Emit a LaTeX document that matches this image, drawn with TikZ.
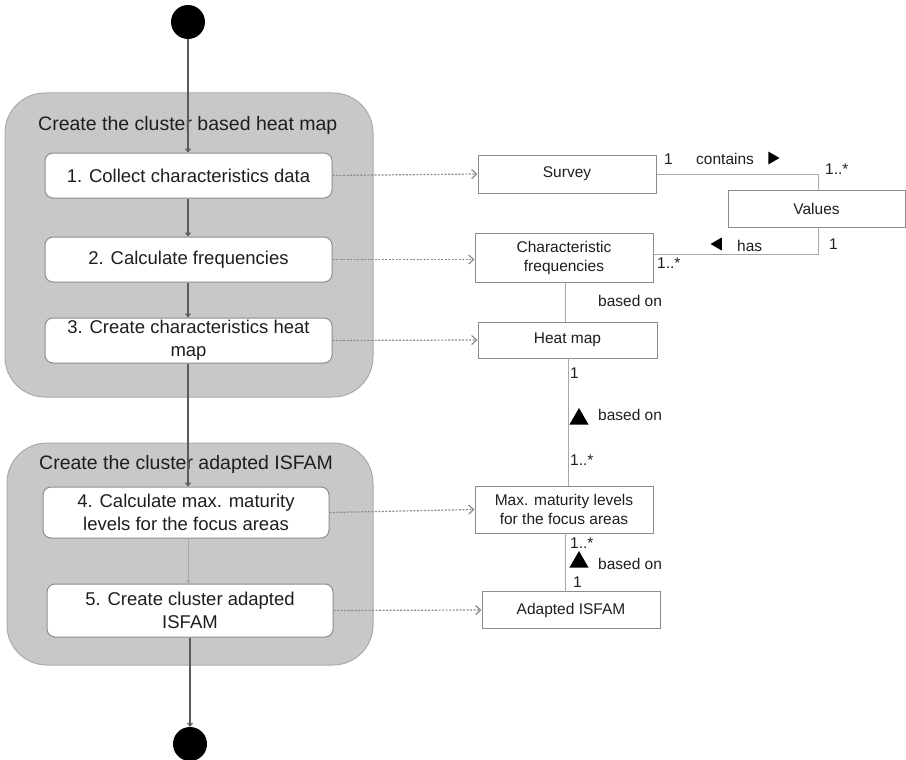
\documentclass[tikz,border=0pt]{standalone}
\usepackage{fontspec}
\setmainfont{Liberation Sans}
\usetikzlibrary{arrows.meta, positioning, calc, shapes.geometric, backgrounds}
\definecolor{gink}{HTML}{1E1E1E}
\definecolor{gflow}{HTML}{5A5A5A}
\definecolor{gedge}{HTML}{8C8C8C}
\definecolor{gline}{HTML}{A8A8A8}
\definecolor{gpanel}{HTML}{C8C8C8}
\definecolor{gpanelrule}{HTML}{AAAAAA}

\begin{document}
\begin{tikzpicture}[
  x=1pt, y=-1pt,
  text=gink,
  % activity side (left) is set larger than the class side (right)
  panel/.style   = {draw=gpanelrule, line width=1pt, fill=gpanel,
                    rounded corners=40pt, inner sep=0pt},
  ptitle/.style  = {font=\fontsize{19.5}{23}\selectfont, anchor=base west,
                    inner sep=0pt},
  action/.style  = {draw=gedge, line width=1pt, fill=white, rounded corners=8pt,
                    align=center, inner sep=2pt,
                    font=\fontsize{18.5}{23}\selectfont},
  entity/.style  = {draw=gedge, line width=1pt, fill=white, align=center,
                    inner sep=2pt, font=\fontsize{15.5}{19}\selectfont},
  dot/.style     = {circle, fill=black, minimum size=34pt, inner sep=0pt},
  flow/.style    = {-{Straight Barb[length=3pt, width=5pt]}, draw=gflow,
                    line width=1.1pt},
  thinflow/.style= {-{Straight Barb[length=2.5pt, width=4pt]}, draw=gline,
                    line width=0.8pt},
  trace/.style   = {-{Straight Barb[length=5pt, width=9pt]}, draw=gedge,
                    line width=1.2pt, dash pattern=on 2pt off 1.5pt},
  assoc/.style   = {draw=gline, line width=1pt},
  lbl/.style     = {font=\fontsize{15.5}{18}\selectfont, anchor=west,
                    inner sep=0pt},
  dir/.style     = {regular polygon, regular polygon sides=3, fill=black,
                    inner sep=0pt},
]
\useasboundingbox (0,0) rectangle (906,760);

% ============================ activity side ================================
\node[panel, minimum width=368pt, minimum height=304pt] (heatgrp) at (189,245) {};
\node[panel, minimum width=366pt, minimum height=222pt] (isfamgrp) at (190,554) {};
\node[ptitle] (heattitle) at (38,131) {Create the cluster based heat map};
\node[ptitle] (isfamtitle) at (39,469) {Create the cluster adapted ISFAM};

\node[dot] (start) at (188,22) {};
\node[action, minimum width=287pt, minimum height=45pt] (collect) at (188.5,175.5)
     {1. Collect characteristics data};
\node[action, minimum width=287pt, minimum height=45pt] (calc) at (188.5,259.5)
     {2. Calculate frequencies};
\node[action, minimum width=287pt, minimum height=45pt] (mkheat) at (188.5,340.5)
     {3. Create characteristics heat\\map};
\node[action, minimum width=286pt, minimum height=51pt] (maxcalc) at (186,512.5)
     {4. Calculate max. maturity\\levels for the focus areas};
\node[action, minimum width=286pt, minimum height=53pt] (mkisfam) at (190,610.5)
     {5. Create cluster adapted\\ISFAM};
\node[dot] (stop) at (190,744) {};

\draw[flow] (start) -- (start |- collect.north);
\draw[flow] (collect.south -| start) -- (start |- calc.north);
\draw[flow] (calc.south -| start) -- (start |- mkheat.north);
\draw[flow] (mkheat.south -| start) -- (start |- maxcalc.north);
\draw[thinflow] (maxcalc.south -| start) -- (start |- mkisfam.north);
\draw[flow] (mkisfam.south) -- (stop);

% ============================== class side =================================
\node[entity, minimum width=178pt, minimum height=38pt] (survey) at (567,174) {Survey};
\node[entity, minimum width=177pt, minimum height=37pt] (values) at (816.5,208.5) {Values};
\node[entity, minimum width=178pt, minimum height=49pt] (charfreq) at (564,257.5)
     {Characteristic\\frequencies};
\node[entity, minimum width=179pt, minimum height=36pt] (heatmap) at (567.5,340) {Heat map};
\node[entity, minimum width=178pt, minimum height=47pt] (maxlevels) at (564,509.5)
     {Max. maturity levels\\for the focus areas};
\node[entity, minimum width=178pt, minimum height=37pt] (adapted) at (571,610)
     {Adapted ISFAM};

% which artefact each step produces
\draw[trace] (collect.east) -- (survey.west);
\draw[trace] (calc.east) -- (calc.east -| charfreq.west);
\draw[trace] (mkheat.east) -- (heatmap.west);
\draw[trace] (maxcalc.east) -- (maxlevels.west);
\draw[trace] (mkisfam.east) -- (adapted.west);

% associations
\coordinate (vtop) at (818,190);
\coordinate (vbot) at (818,227);
\draw[assoc] (survey.east) -| (vtop);
\draw[assoc] (vbot) |- (charfreq.east |- 0,254);
\draw[assoc] (565,282) -- (565,322);
\draw[assoc] (568,358) -- (568,486);
\draw[assoc] (565,533) -- (565,592);

\node[lbl] (m1) at (664,159) {1};
\node[lbl] (contains) at (696,159) {contains};
\node[dir, minimum size=15pt, shape border rotate=-90] (tricon) at (772,158) {};
\node[lbl] (m2) at (825,169) {1..*};
\node[dir, minimum size=15pt, shape border rotate=90] (trihas) at (718,244) {};
\node[lbl] (has) at (737,246) {has};
\node[lbl] (m3) at (829,244) {1};
\node[lbl] (m4) at (657,263) {1..*};
\node[lbl] (based1) at (598,301) {based on};
\node[lbl] (m5) at (570,373) {1};
\node[dir, minimum size=22pt] (tribase1) at (579,419) {};
\node[lbl] (based2) at (598,415) {based on};
\node[lbl] (m6) at (570,460) {1..*};
\node[lbl] (m7) at (570,543) {1..*};
\node[dir, minimum size=22pt] (tribase2) at (579,562) {};
\node[lbl] (based3) at (598,564) {based on};
\node[lbl] (m8) at (573,582) {1};
\end{tikzpicture}
\end{document}
